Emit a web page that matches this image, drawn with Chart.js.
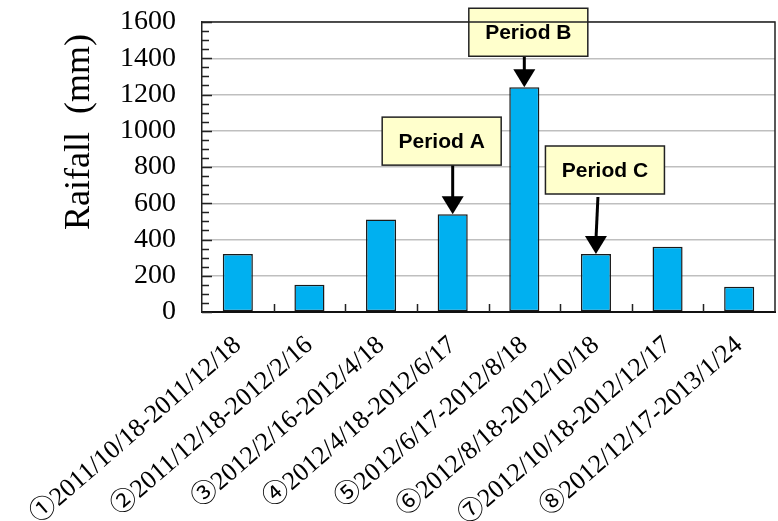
<!DOCTYPE html>
<html>
<head>
<meta charset="utf-8">
<script src="https://cdn.jsdelivr.net/npm/chart.js@4.4.1/dist/chart.umd.min.js"></script>
<style>
  html, body { margin: 0; padding: 0; background: #fff; }
  #wrap { width: 778px; height: 521px; position: relative; }
</style>
</head>
<body>
<div id="wrap"><canvas id="rainChart"></canvas></div>
<script>
// periode pengamatan (label sumbu x)
const periods = [
  '①2011/10/18-2011/12/18',
  '②2011/12/18-2012/2/16',
  '③2012/2/16-2012/4/18',
  '④2012/4/18-2012/6/17',
  '⑤2012/6/17-2012/8/18',
  '⑥2012/8/18-2012/10/18',
  '⑦2012/10/18-2012/12/17',
  '⑧2012/12/17-2013/1/24'
];
// curah hujan per periode (mm)
const rainfall = [320, 150, 510, 540, 1240, 320, 360, 140];

// anotasi: indeks bar yang ditunjuk dan teksnya
const annoIndex = [3, 4, 5];
const annoText = ['Period A', 'Period B', 'Period C'];
// posisi kotak relatif ke ujung panah (px): geser x, jarak ke atas
const annoShiftX = [-11, 4, 9];
const annoGap = [49, 31, 60];

const serif = '"Liberation Serif", "Noto Sans CJK JP", serif';

// garis tepi atas/kanan + tick kecil ke dalam
const frameTicks = {
  id: 'frameTicks',
  afterDraw(chart) {
    const { ctx, chartArea: a, scales } = chart;
    const y = scales.y, x = scales.x;
    ctx.save();
    ctx.strokeStyle = '#222';
    ctx.lineWidth = 1.5;
    ctx.beginPath();
    ctx.moveTo(a.left, a.top); ctx.lineTo(a.right, a.top); ctx.lineTo(a.right, a.bottom);
    ctx.stroke();

    ctx.beginPath();
    for (let v = 0; v <= 1600; v += 50) {
      const py = Math.round(y.getPixelForValue(v)) + 0.5;
      const len = v % 200 === 0 ? 10 : 7;
      ctx.moveTo(a.left, py); ctx.lineTo(a.left + len, py);
    }
    for (let i = 0; i < periods.length - 1; i++) {
      const px = Math.round((x.getPixelForValue(i) + x.getPixelForValue(i + 1)) / 2) + 0.5;
      ctx.moveTo(px, a.bottom); ctx.lineTo(px, a.bottom - 8);
    }
    ctx.stroke();

    // judul sumbu y
    ctx.fillStyle = '#000';
    ctx.font = '36px ' + serif;
    ctx.translate(80, 132);
    ctx.rotate(-Math.PI / 2);
    ctx.textAlign = 'center';
    ctx.textBaseline = 'middle';
    ctx.fillText('Raifall\u2002(mm)', 0, 0);
    ctx.restore();
  }
};

// kotak "Period" dan panah
const periodNotes = {
  id: 'periodNotes',
  afterDatasetsDraw(chart) {
    const { ctx } = chart;
    const meta = chart.getDatasetMeta(0);
    const y = chart.scales.y;
    ctx.save();
    annoIndex.forEach((idx, k) => {
      const tipX = meta.data[idx].x;
      const tipY = y.getPixelForValue(rainfall[idx]);
      const bw = 119, bh = 48;
      const cx = tipX + annoShiftX[k];
      const by = tipY - annoGap[k] - bh;
      const startX = tipX + (k === 2 ? 2 : 0);

      // panah
      ctx.strokeStyle = '#000';
      ctx.fillStyle = '#000';
      ctx.lineWidth = 3;
      ctx.beginPath();
      ctx.moveTo(startX, by + bh + (k === 2 ? 3 : 0));
      ctx.lineTo(tipX, tipY - 14);
      ctx.stroke();
      ctx.beginPath();
      ctx.moveTo(tipX, tipY);
      ctx.lineTo(tipX - 11, tipY - 18);
      ctx.lineTo(tipX + 11, tipY - 18);
      ctx.closePath();
      ctx.fill();

      // kotak
      ctx.fillStyle = '#FFFFCC';
      ctx.fillRect(cx - bw / 2, by, bw, bh);
      ctx.strokeStyle = '#222';
      ctx.lineWidth = 1.5;
      ctx.strokeRect(cx - bw / 2, by, bw, bh);
      ctx.fillStyle = '#000';
      ctx.font = 'bold 21px "Liberation Sans", Arial, sans-serif';
      ctx.textAlign = 'center';
      ctx.textBaseline = 'middle';
      ctx.fillText(annoText[k], cx, by + bh / 2 + 1);
    });
    ctx.restore();
  }
};

function buildChart() {
  const ctx = document.getElementById('rainChart').getContext('2d');
  return new Chart(ctx, {
    type: 'bar',
    data: {
      labels: periods,
      datasets: [{
        data: rainfall,
        backgroundColor: '#00B0F0',
        borderColor: '#1a1a1a',
        borderWidth: 1.5,
        borderSkipped: false,
        categoryPercentage: 1,
        barPercentage: 0.42
      }]
    },
    options: {
      responsive: true,
      maintainAspectRatio: false,
      animation: false,
      layout: { padding: { top: 22, right: 3, left: 0, bottom: 0 } },
      plugins: { legend: { display: false }, tooltip: { enabled: false } },
      scales: {
        x: {
          grid: { display: false },
          border: { display: true, color: '#111', width: 2 },
          ticks: {
            autoSkip: false,
            minRotation: 41,
            maxRotation: 41,
            padding: 10,
            color: '#000',
            font: { family: serif, size: 26 }
          },
          afterFit: s => { s.height = 209; }
        },
        y: {
          min: 0,
          max: 1600,
          ticks: {
            stepSize: 200,
            autoSkip: false,
            padding: 26,
            color: '#000',
            font: { family: serif, size: 28 },
            callback: v => String(v)
          },
          grid: { color: '#BFBFBF', lineWidth: 1.5, drawTicks: false },
          border: { display: true, color: '#222', width: 1.5 },
          afterFit: s => { s.width = 202; s.paddingTop = 0; s.paddingBottom = 0; }
        }
      }
    },
    plugins: [frameTicks, periodNotes]
  });
}

document.addEventListener('DOMContentLoaded', buildChart);
</script>
</body>
</html>
